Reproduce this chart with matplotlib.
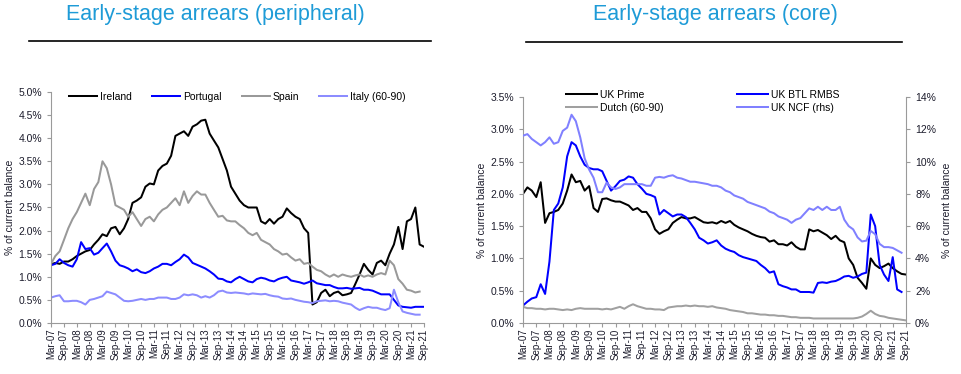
import matplotlib
matplotlib.use("Agg")
import matplotlib.pyplot as plt
import matplotlib.ticker as mtick
import numpy as np
import pandas as pd

# bi-monthly observations, Mar-07 .. Sep-21
months = pd.date_range("2007-03-01", "2021-09-01", freq="2MS")
tick_dates = pd.date_range("2007-03-01", "2021-09-01", freq="6MS")
tick_labels = [d.strftime("%b-%y") for d in tick_dates]

# peripheral (% of current balance)
ireland = [1.27, 1.30, 1.28, 1.33, 1.33, 1.38, 1.45, 1.50, 1.55, 1.58, 1.70, 1.80,
           1.92, 1.88, 2.05, 2.08, 1.92, 2.05, 2.25, 2.60, 2.65, 2.72, 2.95, 3.02,
           3.00, 3.30, 3.40, 3.45, 3.62, 4.05, 4.10, 4.15, 4.05, 4.25, 4.30, 4.38,
           4.40, 4.10, 3.95, 3.80, 3.55, 3.30, 2.95, 2.80, 2.65, 2.55, 2.50, 2.50,
           2.50, 2.20, 2.15, 2.25, 2.15, 2.25, 2.30, 2.48, 2.38, 2.30, 2.25, 2.05,
           1.95, 0.40, 0.45, 0.65, 0.72, 0.58, 0.65, 0.68, 0.60, 0.62, 0.65, 0.85,
           1.05, 1.28, 1.15, 1.05, 1.30, 1.35, 1.25, 1.50, 1.70, 2.08, 1.60, 2.20,
           2.25, 2.50, 1.70, 1.65]
portugal = [1.25, 1.28, 1.38, 1.30, 1.25, 1.22, 1.38, 1.75, 1.60, 1.62, 1.48, 1.52,
            1.62, 1.72, 1.55, 1.35, 1.25, 1.22, 1.18, 1.12, 1.16, 1.10, 1.08, 1.12,
            1.18, 1.22, 1.28, 1.28, 1.25, 1.32, 1.38, 1.48, 1.42, 1.30, 1.26, 1.22,
            1.18, 1.12, 1.05, 0.96, 0.95, 0.90, 0.88, 0.95, 1.00, 0.95, 0.90, 0.88,
            0.95, 0.98, 0.96, 0.92, 0.90, 0.95, 0.98, 1.00, 0.92, 0.90, 0.88, 0.85,
            0.88, 0.92, 0.86, 0.84, 0.82, 0.82, 0.78, 0.75, 0.75, 0.76, 0.74, 0.75,
            0.76, 0.72, 0.72, 0.70, 0.66, 0.62, 0.62, 0.62, 0.50, 0.38, 0.35, 0.34,
            0.33, 0.35, 0.35, 0.35]
spain = [1.28, 1.45, 1.55, 1.80, 2.05, 2.25, 2.40, 2.60, 2.80, 2.55, 2.90, 3.05,
         3.50, 3.35, 3.00, 2.55, 2.50, 2.45, 2.30, 2.40, 2.25, 2.10, 2.25, 2.30,
         2.20, 2.35, 2.45, 2.50, 2.60, 2.70, 2.55, 2.85, 2.60, 2.75, 2.85, 2.78,
         2.78, 2.60, 2.45, 2.30, 2.32, 2.22, 2.20, 2.20, 2.12, 2.05, 1.95, 1.90,
         1.95, 1.80, 1.75, 1.70, 1.60, 1.55, 1.48, 1.50, 1.42, 1.35, 1.38, 1.28,
         1.30, 1.22, 1.15, 1.12, 1.05, 1.00, 1.05, 1.00, 1.05, 1.02, 1.00, 1.03,
         1.05, 1.00, 1.03, 1.00, 1.05, 1.08, 1.05, 1.35, 1.25, 0.95, 0.85, 0.72,
         0.70, 0.66, 0.68, None]
italy = [0.55, 0.58, 0.60, 0.47, 0.47, 0.48, 0.48, 0.45, 0.40, 0.50, 0.52, 0.55,
         0.58, 0.68, 0.65, 0.62, 0.55, 0.48, 0.47, 0.48, 0.50, 0.52, 0.50, 0.52,
         0.52, 0.55, 0.55, 0.55, 0.52, 0.52, 0.55, 0.62, 0.60, 0.62, 0.60, 0.55,
         0.58, 0.55, 0.60, 0.68, 0.70, 0.66, 0.65, 0.66, 0.65, 0.64, 0.62, 0.64,
         0.63, 0.62, 0.63, 0.60, 0.58, 0.57, 0.53, 0.52, 0.53, 0.50, 0.48, 0.46,
         0.45, 0.43, 0.47, 0.48, 0.49, 0.47, 0.48, 0.47, 0.44, 0.42, 0.40, 0.33,
         0.28, 0.32, 0.35, 0.33, 0.33, 0.30, 0.28, 0.32, 0.72, 0.45, 0.25, 0.22,
         0.20, 0.18, 0.18, None]

# core (% of current balance, NCF on rhs)
uk_prime = [2.00, 2.10, 2.05, 1.95, 2.18, 1.55, 1.70, 1.72, 1.75, 1.85, 2.05, 2.30,
            2.18, 2.20, 2.05, 2.12, 1.78, 1.72, 1.92, 1.93, 1.90, 1.88, 1.88, 1.85,
            1.82, 1.75, 1.78, 1.72, 1.72, 1.62, 1.45, 1.38, 1.42, 1.45, 1.55, 1.60,
            1.64, 1.62, 1.62, 1.64, 1.60, 1.56, 1.55, 1.56, 1.54, 1.58, 1.55, 1.58,
            1.52, 1.48, 1.45, 1.42, 1.38, 1.35, 1.33, 1.32, 1.26, 1.28, 1.22, 1.22,
            1.20, 1.25, 1.18, 1.14, 1.14, 1.45, 1.42, 1.44, 1.40, 1.36, 1.30, 1.35,
            1.28, 1.25, 1.00, 0.90, 0.70, 0.62, 0.53, 1.00, 0.90, 0.85, 0.88, 0.92,
            0.85, 0.80, 0.76, 0.75]
uk_btl = [0.27, 0.33, 0.38, 0.40, 0.60, 0.45, 0.95, 1.75, 1.85, 2.10, 2.58, 2.80,
          2.75, 2.58, 2.45, 2.40, 2.38, 2.38, 2.35, 2.20, 2.05, 2.12, 2.20, 2.22,
          2.27, 2.25, 2.15, 2.08, 2.00, 1.98, 1.95, 1.68, 1.75, 1.70, 1.65, 1.68,
          1.68, 1.64, 1.55, 1.45, 1.32, 1.28, 1.23, 1.25, 1.28, 1.20, 1.15, 1.12,
          1.10, 1.05, 1.02, 1.00, 0.98, 0.96, 0.90, 0.85, 0.78, 0.80, 0.60, 0.57,
          0.55, 0.52, 0.52, 0.48, 0.48, 0.48, 0.47, 0.62, 0.63, 0.62, 0.64, 0.65,
          0.68, 0.72, 0.73, 0.70, 0.72, 0.76, 0.78, 1.68, 1.50, 0.90, 0.75, 0.65,
          1.02, 0.52, 0.48, None]
dutch = [0.25, 0.23, 0.23, 0.22, 0.22, 0.21, 0.22, 0.22, 0.21, 0.20, 0.21, 0.20,
         0.22, 0.23, 0.22, 0.22, 0.22, 0.22, 0.21, 0.22, 0.21, 0.23, 0.25, 0.22,
         0.26, 0.29, 0.26, 0.24, 0.22, 0.22, 0.21, 0.21, 0.20, 0.24, 0.25, 0.26,
         0.26, 0.27, 0.26, 0.27, 0.26, 0.26, 0.25, 0.26, 0.24, 0.23, 0.22, 0.20,
         0.19, 0.18, 0.17, 0.15, 0.15, 0.14, 0.13, 0.13, 0.12, 0.12, 0.11, 0.11,
         0.10, 0.09, 0.09, 0.08, 0.08, 0.08, 0.07, 0.07, 0.07, 0.07, 0.07, 0.07,
         0.07, 0.07, 0.07, 0.07, 0.08, 0.10, 0.14, 0.19, 0.14, 0.11, 0.10, 0.08,
         0.07, 0.06, 0.05, 0.04]
uk_ncf = [11.6, 11.7, 11.4, 11.2, 11.0, 11.2, 11.5, 11.1, 11.2, 11.9, 12.1, 12.9,
          12.5, 11.5, 10.2, 9.5, 9.0, 8.1, 8.1, 8.7, 8.4, 8.3, 8.4, 8.6,
          8.6, 8.6, 8.6, 8.6, 8.5, 8.5, 9.0, 9.05, 9.0, 9.1, 9.15, 9.0,
          8.95, 8.85, 8.75, 8.75, 8.7, 8.65, 8.6, 8.5, 8.5, 8.4, 8.2, 8.1,
          7.9, 7.8, 7.7, 7.5, 7.4, 7.3, 7.2, 7.1, 6.9, 6.8, 6.6, 6.5,
          6.4, 6.2, 6.4, 6.5, 6.8, 7.1, 7.0, 7.2, 7.0, 7.2, 7.0, 7.0,
          7.2, 6.4, 6.0, 5.8, 5.3, 5.05, 5.1, 5.7, 5.5, 4.9, 4.7, 4.7,
          4.65, 4.5, 4.35, None]

TITLE_BLUE = "#1e9bd7"
TEXT = "#1c1c2c"
SPINE = "#9a9a9a"
LW = 1.45

plt.rcParams["font.family"] = ["Liberation Sans", "DejaVu Sans"]


def arr(values):
    return np.array(values, dtype=float)


def style_axes(ax, ymax, ystep, fmt):
    ax.set_xlim(months[0], months[-1])
    ax.set_ylim(0, ymax)
    ax.set_yticks(np.arange(0, ymax + ystep / 2, ystep))
    ax.yaxis.set_major_formatter(mtick.FormatStrFormatter(fmt))
    ax.set_xticks(tick_dates)
    ax.set_xticklabels(tick_labels, rotation=90, fontsize=7, color=TEXT)
    ax.tick_params(axis="y", labelsize=7.5, colors=TEXT, length=3, color=SPINE)
    ax.tick_params(axis="x", length=3, color=SPINE, pad=1)
    for side in ("top", "right"):
        ax.spines[side].set_visible(False)
    for side in ("left", "bottom"):
        ax.spines[side].set_color(SPINE)
    ax.set_ylabel("% of current balance", fontsize=7.5, color=TEXT, labelpad=2)


fig = plt.figure(figsize=(9.61, 3.74), dpi=100)

# left panel
ax1 = fig.add_axes([0.0531, 0.1364, 0.3881, 0.6176])
ax1.plot(months, arr(ireland), color="black", lw=LW, label="Ireland")
ax1.plot(months, arr(portugal), color="#0000ff", lw=LW, label="Portugal")
ax1.plot(months, arr(spain), color="#999999", lw=LW, label="Spain")
ax1.plot(months, arr(italy), color="#8c8cff", lw=LW, label="Italy (60-90)")
style_axes(ax1, 5.0, 0.5, "%.1f%%")
ax1.legend(loc="upper center", bbox_to_anchor=(0.5, 1.04), ncol=4, frameon=False,
           fontsize=7.5, handlelength=2.7, columnspacing=1.9, handletextpad=0.3)

# right panel
ax2 = fig.add_axes([0.5442, 0.1364, 0.3986, 0.6043])
l1, = ax2.plot(months, arr(uk_prime), color="black", lw=LW, label="UK Prime")
l2, = ax2.plot(months, arr(dutch), color="#a0a0a0", lw=LW, label="Dutch (60-90)")
l3, = ax2.plot(months, arr(uk_btl), color="#0000ff", lw=LW, label="UK BTL RMBS")
style_axes(ax2, 3.5, 0.5, "%.1f%%")
ax3 = ax2.twinx()
l4, = ax3.plot(months, arr(uk_ncf), color="#8080ff", lw=LW, label="UK NCF (rhs)")
ax3.set_ylim(0, 14)
ax3.set_yticks(np.arange(0, 15, 2))
ax3.yaxis.set_major_formatter(mtick.FormatStrFormatter("%d%%"))
ax3.tick_params(axis="y", labelsize=7.5, colors=TEXT, length=3, color=SPINE)
for side in ("top", "left", "bottom"):
    ax3.spines[side].set_visible(False)
ax3.spines["right"].set_color(SPINE)
ax3.set_ylabel("% of current balance", fontsize=7.5, color=TEXT, labelpad=4)
ax3.legend([l1, l2, l3, l4], [l.get_label() for l in (l1, l2, l3, l4)],
           loc="upper center", bbox_to_anchor=(0.47, 1.072), ncol=2, frameon=False,
           fontsize=7.5, handlelength=3.0, columnspacing=7.0, handletextpad=0.3,
           labelspacing=0.25)

# titles and rules
fig.text(0.2237, 0.960, "Early-stage arrears (peripheral)", ha="center", va="center",
         fontsize=15.5, color=TITLE_BLUE)
fig.text(0.7440, 0.960, "Early-stage arrears (core)", ha="center", va="center",
         fontsize=15.5, color=TITLE_BLUE)
fig.add_artist(plt.Line2D([0.030, 0.448], [0.891, 0.891], color="black", lw=1.2,
                          transform=fig.transFigure))
fig.add_artist(plt.Line2D([0.547, 0.939], [0.889, 0.889], color="black", lw=1.2,
                          transform=fig.transFigure))

fig.savefig("out.png", dpi=100)
